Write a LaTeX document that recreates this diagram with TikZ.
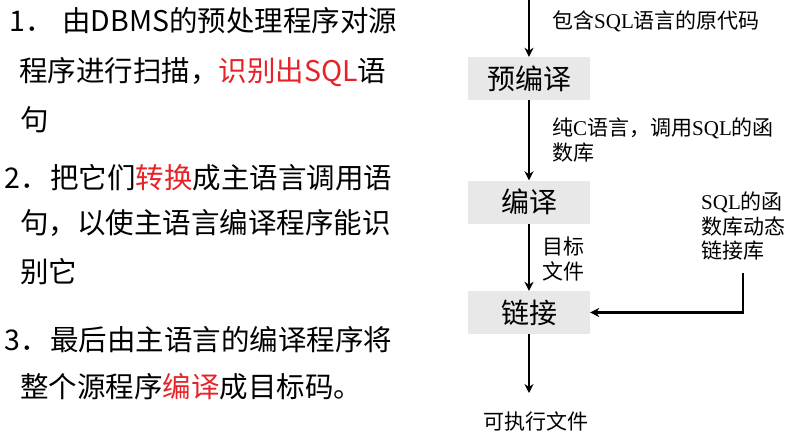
\documentclass[tikz,border=0pt]{standalone}
\usepackage{fontspec}
\setmainfont{Liberation Serif}
\newfontfamily\zh{Noto Sans CJK SC}
\usetikzlibrary{arrows.meta}
\definecolor{hired}{RGB}{230,35,40}
\definecolor{boxgray}{RGB}{232,232,232}
\newcommand{\redtxt}[1]{\textcolor{hired}{#1}}
\newcommand{\lat}[1]{{\rmfamily #1}}

\begin{document}
\begin{tikzpicture}[x=1pt, y=-1pt,
        para/.style={anchor=base west, inner sep=0pt, font=\zh\fontsize{28.5}{34}\selectfont},
        stage/.style={rectangle, fill=boxgray, minimum width=122pt, minimum height=43pt, inner sep=0pt, font=\zh\fontsize{28}{30}\selectfont},
        note/.style={inner sep=0pt, align=left, font=\zh\fontsize{21}{24.5}\selectfont},
        flow/.style={-{Stealth[length=9pt,width=9pt]}, line width=2.4pt}
    ]
        \useasboundingbox (0,0) rectangle (792,431);

        % Erklaerung links
        \node[para] (l1n) at (9,31) {1．};
        \node[para] (l1) at (62,31) {由DBMS的预处理程序对源};
        \node[para] (l1b) at (19,81) {程序进行扫描，\redtxt{识别出SQL}语};
        \node[para] (l1c) at (20,130) {句};
        \node[para] (l2n) at (4,188) {2．};
        \node[para] (l2) at (50,188) {把它们\redtxt{转换}成主语言调用语};
        \node[para] (l2b) at (20,233) {句，以使主语言编译程序能识};
        \node[para] (l2c) at (20,282) {别它};
        \node[para] (l3n) at (4,350) {3．};
        \node[para] (l3) at (50,350) {最后由主语言的编译程序将};
        \node[para] (l3b) at (20,397) {整个源程序\redtxt{编译}成目标码。};

        % Ablauf rechts
        \coordinate (src) at (529,0);
        \node[stage] (pre) at (529,78.5) {预编译};
        \node[stage] (comp) at (529,202) {编译};
        \node[stage] (link) at (529,312.5) {链接};

        \node[note, anchor=base west] (srcnote) at (552,28) {包含\lat{SQL}语言的原代码};
        \node[note, anchor=north west] (cnote) at (552,118) {纯\lat{C}语言，调用\lat{SQL}的函\\数库};
        \node[note, anchor=north west] (objnote) at (542,237) {目标\\文件};
        \node[note, anchor=north west] (dll) at (701,192) {\lat{SQL}的函\\数库动态\\链接库};
        \node[note, anchor=base] (exe) at (536,429) {可执行文件};

        \draw[flow] (src) -- (pre);
        \draw[flow] (pre) -- (comp);
        \draw[flow] (comp) -- (link);
        \draw[flow, shorten >=18pt] (link) -- (link |- exe.north);
        \draw[flow, shorten <=12pt] (dll.south) |- (link.east);
    \end{tikzpicture}
\end{document}
